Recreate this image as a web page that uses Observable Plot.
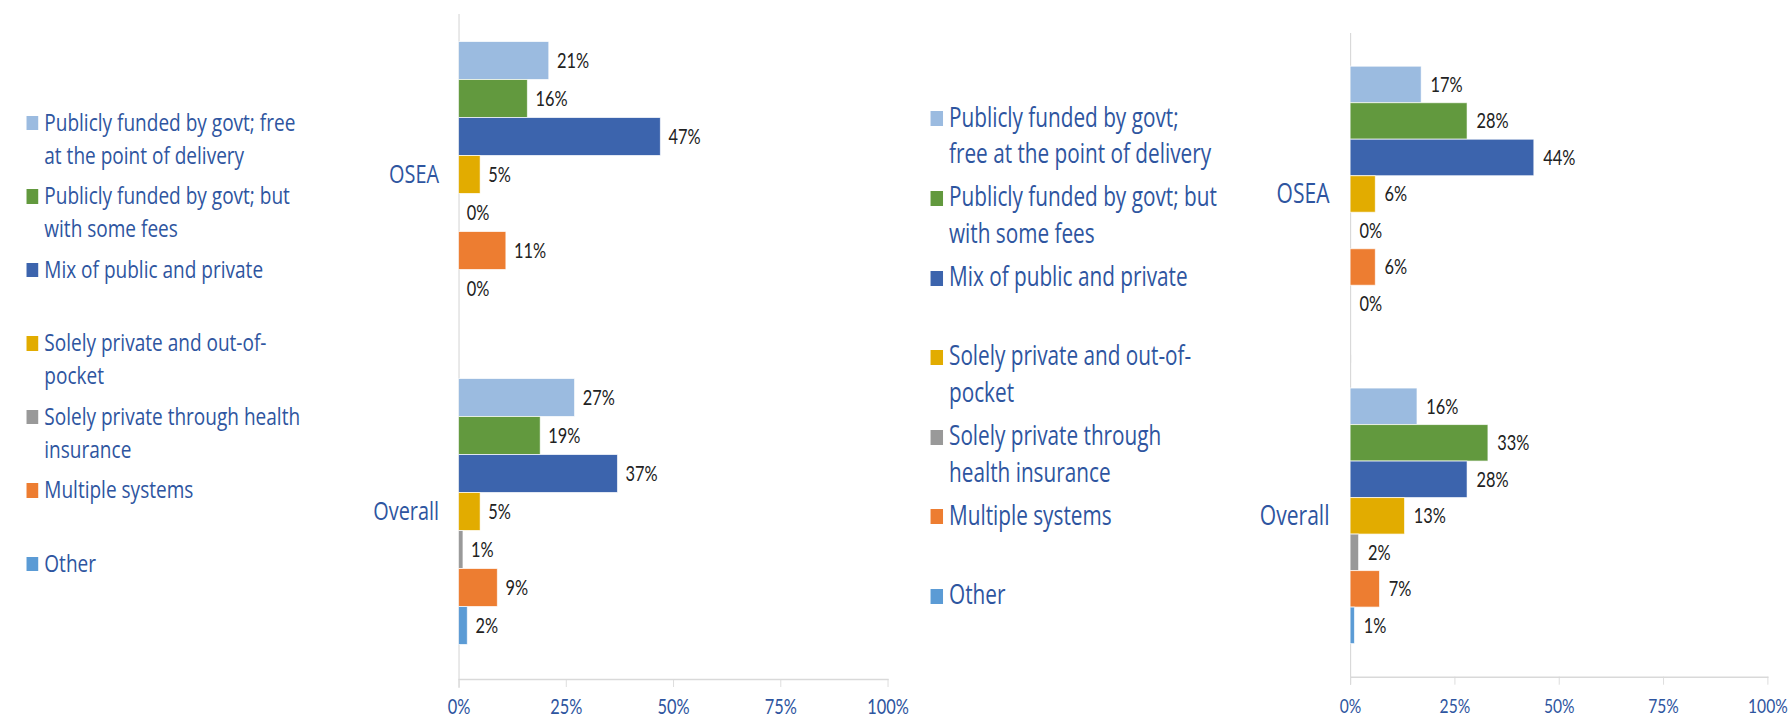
<!DOCTYPE html>
<html><head><meta charset="utf-8">
<script src="https://cdn.jsdelivr.net/npm/d3@7"></script>
<script src="https://cdn.jsdelivr.net/npm/@observablehq/plot@0.6"></script>
<style>
html,body{margin:0;padding:0;background:#fff;overflow:hidden;width:1791px;height:716px}
#stage{position:absolute;left:0;top:0;width:2296px;height:716px;transform:scaleX(0.78);transform-origin:0 0;font-family:Lato,"Open Sans",sans-serif}
.legend-item{position:absolute;color:#2E55A0;white-space:nowrap;font-family:"Open Sans",Lato,sans-serif}
.plotbox{position:absolute;top:0}
</style></head><body><div id="stage"></div>
<script>
// ---- data ----
const categories = ["OSEA", "Overall"];
const series = [
  "Publicly funded by govt; free at the point of delivery",
  "Publicly funded by govt; but with some fees",
  "Mix of public and private",
  "Solely private and out-of-pocket",
  "Solely private through health insurance",
  "Multiple systems",
  "Other"
];
const colors = ["#9BBBE0", "#62993E", "#3C64AD", "#E2AC00", "#999999", "#ED7D31", "#5B9BD5"];
const leftOSEA    = [21, 16, 47, 5, 0, 11, 0];
const leftOverall = [27, 19, 37, 5, 1, 9, 2];
const rightOSEA    = [17, 28, 44, 6, 0, 6, 0];
const rightOverall = [16, 33, 28, 13, 2, 7, 1];
const xTicks = [0, 25, 50, 75, 100];
const leftLegendLines = [
  ["Publicly funded by govt; free", "at the point of delivery"],
  ["Publicly funded by govt; but", "with some fees"],
  ["Mix of public and private"],
  ["Solely private and out-of-", "pocket"],
  ["Solely private through health", "insurance"],
  ["Multiple systems"],
  ["Other"]
];
const rightLegendLines = [
  ["Publicly funded by govt;", "free at the point of delivery"],
  ["Publicly funded by govt; but", "with some fees"],
  ["Mix of public and private"],
  ["Solely private and out-of-", "pocket"],
  ["Solely private through", "health insurance"],
  ["Multiple systems"],
  ["Other"]
];

const blue = "#2E55A0";
const axisGray = "#d9d9d9";
const stage = document.getElementById("stage");

function makePlot(osea, overall, o) {
  const rows = [];
  categories.forEach((c, ci) => {
    const vals = ci === 0 ? osea : overall;
    series.forEach((s, si) => rows.push({cat: c, series: s, value: vals[si]}));
  });
  return Plot.plot({
    width: o.width, height: 716,
    marginLeft: o.ml, marginRight: o.mr, marginTop: o.mt, marginBottom: o.mb,
    style: {fontFamily: "Lato, 'Open Sans', sans-serif", background: "transparent", overflow: "visible"},
    x: {domain: [0, 100]},
    y: {domain: series, axis: null, padding: 0, round: false, insetTop: o.yt, insetBottom: o.yb},
    fy: {domain: categories, paddingInner: o.fp, paddingOuter: 0, round: false, label: null},
    color: {domain: series, range: colors},
    marks: [
      Plot.ruleX([0], {stroke: axisGray, strokeWidth: 1.5, insetBottom: o.ruleExt}),
      Plot.frame({anchor: "bottom", facetAnchor: "bottom", stroke: axisGray, strokeWidth: 1.5}),
      Plot.barX(rows, {x: "value", y: "series", fy: "cat", fill: "series", stroke: "white", strokeOpacity: 0.7, strokeWidth: 1}),
      Plot.axisX(xTicks, {anchor: "bottom", tickSize: 8, tickPadding: o.tp, stroke: axisGray, fill: blue, fontSize: o.tf, tickFormat: d => d + "%", label: null}),
      Plot.axisFy({anchor: "left", tickSize: 0, tickPadding: o.cp, fontSize: o.cf, fontFamily: "'Open Sans', Lato, sans-serif", fill: blue, label: null, dy: o.cdy}),
      Plot.text(rows, {x: "value", y: "series", fy: "cat", text: d => d.value + "%", textAnchor: "start", dx: o.vdx, fontSize: o.vf, fill: "#222"})
    ]
  });
}

function place(svg, left) {
  const box = document.createElement("div");
  box.className = "plotbox";
  box.style.left = left + "px";
  box.appendChild(svg);
  stage.appendChild(box);
}

place(makePlot(leftOSEA, leftOverall, {
  width: 720, ml: 130, mr: 40, mt: 14, mb: 37,
  yt: 27.5, yb: 34.5, fp: 9 / 337, ruleExt: -9, tp: 11.5, tf: 21, cp: 25.6, cf: 25.5, cdy: -3.5, vf: 21, vdx: 10
}), 458.3);

place(makePlot(rightOSEA, rightOverall, {
  width: 695, ml: 130, mr: 30, mt: 33, mb: 39.3,
  yt: 33.2, yb: 33.1, fp: 0, ruleExt: -8, tp: 14, tf: 20, cp: 27, cf: 27, cdy: 0, vf: 21, vdx: 11.5
}), 1601);

function legend(lines, o) {
  lines.forEach((ls, i) => {
    const cy = o.start + i * o.step;
    const item = document.createElement("div");
    item.className = "legend-item";
    item.style.left = o.textX + "px";
    item.style.top = (cy - o.lh / 2 - 2) + "px";
    item.style.fontSize = o.fs + "px";
    item.style.lineHeight = o.lh + "px";
    ls.forEach(t => {
      const line = document.createElement("div");
      line.textContent = t;
      item.appendChild(line);
    });
    const sw = document.createElement("div");
    sw.style.cssText = `position:absolute;left:${o.swX - o.textX}px;top:${(o.lh - o.swH) / 2 + 2}px;width:${o.swW}px;height:${o.swH}px;background:${colors[i]}`;
    item.appendChild(sw);
    stage.appendChild(item);
  });
}

legend(leftLegendLines, {start: 123, step: 73.5, textX: 56.8, swX: 33.7, swW: 15.4, swH: 14.3, fs: 24.4, lh: 33});
legend(rightLegendLines, {start: 119, step: 79.6, textX: 1216.7, swX: 1192.7, swW: 15.9, swH: 15, fs: 26.6, lh: 36.7});
</script>
</body></html>
